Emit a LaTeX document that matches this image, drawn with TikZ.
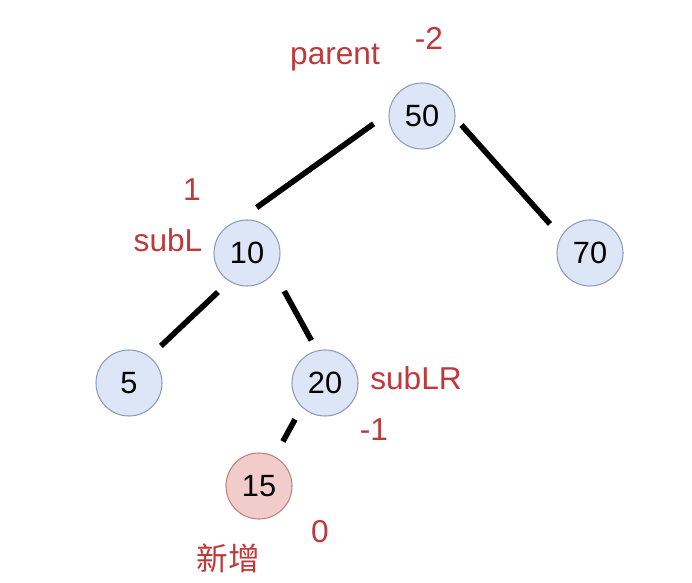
\documentclass[tikz,border=0pt]{standalone}
\usepackage{fontspec}
\setmainfont{Liberation Sans}
\newfontfamily\cjk{Noto Sans CJK SC}
\usetikzlibrary{calc}

\definecolor{nodeblue}{RGB}{220,230,247}
\definecolor{nodeedge}{RGB}{140,155,182}
\definecolor{newred}{RGB}{242,204,202}
\definecolor{newedge}{RGB}{190,128,128}
\definecolor{lblred}{RGB}{192,56,58}

\begin{document}
\begin{tikzpicture}[
    treenode/.style={circle, draw=nodeedge, fill=nodeblue, line width=0.6pt, minimum size=1.32cm, inner sep=0pt, font=\fontsize{17.5}{20}\selectfont},
    newnode/.style={treenode, draw=newedge, fill=newred},
    lbl/.style={text=lblred, inner sep=0pt, font=\fontsize{18}{21}\selectfont},
    edge/.style={line width=3.2pt, black},
]
\useasboundingbox (0,0) rectangle (13.84,11.64);

% Tree nodes
\node[treenode] (n50) at (8.44,9.32) {50};
\node[treenode] (n10) at (4.94,6.58) {10};
\node[treenode] (n70) at (11.80,6.58) {70};
\node[treenode] (n5) at (2.58,3.98) {5};
\node[treenode] (n20) at (6.50,3.98) {20};
\node[newnode] (n15) at (5.18,1.92) {15};

% Labels
\node[lbl] (lparent) at ($(n50)+(-1.74,1.16)$) {parent};
\node[lbl] (bf50) at ($(n50)+(0.14,1.56)$) {-2};
\node[lbl] (bf10) at ($(n10)+(-1.10,1.26)$) {1};
\node[lbl] (lsubL) at ($(n10)+(-1.58,0.26)$) {subL};
\node[lbl] (lsubLR) at ($(n20)+(1.82,0.10)$) {subLR};
\node[lbl] (bf20) at ($(n20)+(0.98,-0.94)$) {-1};
\node[lbl] (bf15) at ($(n15)+(1.22,-0.92)$) {0};
\node[lbl] (lnew) at ($(n15)+(-0.62,-1.44)$) {\cjk 新增};

% Edges
\draw[edge, shorten <=0.37cm, shorten >=0.45cm] (n50.175) -- (n10.105);
\draw[edge, shorten <=0.18cm, shorten >=0.33cm] (n50.356) -- (n70.150);
\draw[edge, shorten <=0.31cm, shorten >=0.31cm] (n10.238) -- (n5.52);
\draw[edge, shorten <=0.42cm, shorten >=0.23cm] (n10.324) -- (n20.104);
\draw[edge, shorten <=0.28cm, shorten >=0.34cm] (n20.226) -- (n15.62);

\end{tikzpicture}
\end{document}
